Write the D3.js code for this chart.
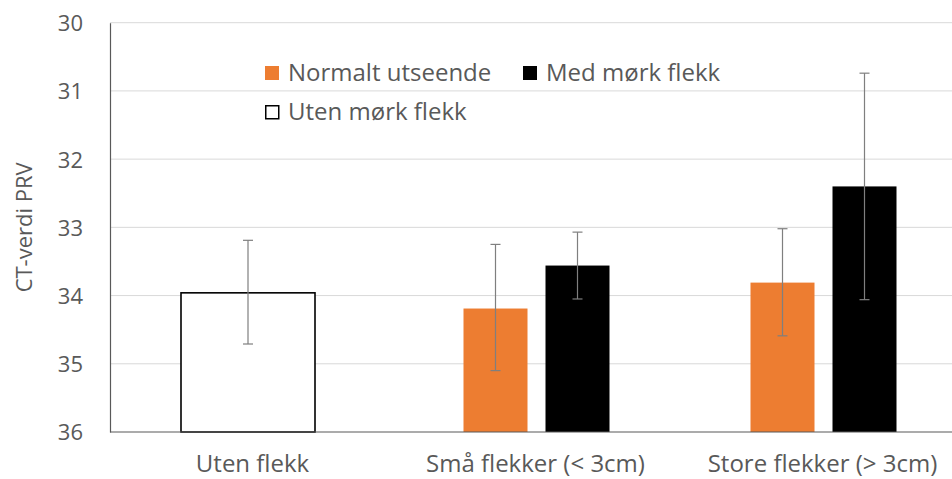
<!DOCTYPE html>
<html><head><meta charset="utf-8">
<script src="https://cdn.jsdelivr.net/npm/d3@7/dist/d3.min.js"></script>
<style>body{margin:0;background:#fff}svg{display:block}text{font-family:"Open Sans","Noto Sans",sans-serif}</style>
</head><body><svg id="c" width="952" height="479"></svg>
<script>
const categories = ["Uten flekk", "Små flekker (< 3cm)", "Store flekker (> 3cm)"];
const seriesNames = ["Normalt utseende", "Med mørk flekk", "Uten mørk flekk"];
const uten = [33.96, null, null];
const utenLow = [33.19, null, null];
const utenHigh = [34.71, null, null];
const normalt = [null, 34.19, 33.81];
const normaltLow = [null, 33.25, 33.02];
const normaltHigh = [null, 35.10, 34.59];
const medMork = [null, 33.56, 32.40];
const medMorkLow = [null, 33.07, 30.74];
const medMorkHigh = [null, 34.05, 34.06];
const yTicks = [30, 31, 32, 33, 34, 35, 36];

(function(){
const svg = d3.select("#c");
const pLeft = 110, pRight = 952, pTop = 22.7, pBottom = 432;
const y = d3.scaleLinear().domain([30, 36]).range([pTop, pBottom]);
const x = d3.scaleBand().domain(categories).range([106, 967]);
const inner = d3.scaleBand().domain([0, 1]).range([-73, 73]).paddingInner(18/82);
const gray = "#595959";

svg.append("g").selectAll("line").data(yTicks.slice(0, -1)).join("line")
  .attr("x1", pLeft).attr("x2", pRight).attr("y1", d => y(d)).attr("y2", d => y(d))
  .attr("stroke", "#d9d9d9").attr("stroke-width", 1);

const yAxis = d3.axisLeft(y).tickValues(yTicks).tickSize(0).tickPadding(27).tickFormat(d3.format("d"));
const ga = svg.append("g").attr("transform", `translate(${pLeft},0)`).call(yAxis);
ga.select(".domain").attr("stroke", gray).attr("stroke-width", 1.2);
ga.selectAll("text").attr("font-size", 22).attr("fill", gray).attr("dy", "0.36em")
  .attr("font-family", "'Open Sans','Noto Sans',sans-serif");

svg.append("text").attr("transform", `translate(32,${(pTop+pBottom)/2}) rotate(-90)`)
  .attr("text-anchor", "middle").attr("font-size", 22).attr("fill", gray).text("CT-verdi PRV");

const series = [
  {vals: normalt, lo: normaltLow, hi: normaltHigh, fill: "#ED7D31", stroke: "none", idx: 0},
  {vals: medMork, lo: medMorkLow, hi: medMorkHigh, fill: "#000000", stroke: "none", idx: 1}
];
const bars = [];
series.forEach(s => s.vals.forEach((v, i) => {
  if (v == null) return;
  const cx = x(categories[i]) + x.bandwidth()/2;
  bars.push({x0: cx + inner(s.idx), w: inner.bandwidth(), v, lo: s.lo[i], hi: s.hi[i], fill: s.fill, stroke: s.stroke});
}));
uten.forEach((v, i) => {
  if (v == null) return;
  const cx = x(categories[i]) + x.bandwidth()/2 - 1.5;
  bars.push({x0: cx - 67, w: 134, v, lo: utenLow[i], hi: utenHigh[i], fill: "#ffffff", stroke: "#000", sw: 1.6});
});

svg.append("g").selectAll("rect").data(bars).join("rect")
  .attr("x", d => d.x0).attr("width", d => d.w)
  .attr("y", d => y(d.v)).attr("height", d => y(36) - y(d.v))
  .attr("fill", d => d.fill).attr("stroke", d => d.stroke).attr("stroke-width", d => d.sw || 0);

svg.append("line").attr("x1", pLeft).attr("x2", pRight).attr("y1", y(36)).attr("y2", y(36))
  .attr("stroke", gray).attr("stroke-width", 1.2);

const eg = svg.append("g").attr("stroke", "#7f7f7f").attr("stroke-width", 1.2);
bars.forEach(d => {
  const cx = d.x0 + d.w/2;
  eg.append("line").attr("x1", cx).attr("x2", cx).attr("y1", y(d.lo)).attr("y2", y(d.hi));
  [d.lo, d.hi].forEach(e => eg.append("line").attr("x1", cx-5).attr("x2", cx+5).attr("y1", y(e)).attr("y2", y(e)));
});

svg.append("g").selectAll("text").data(categories).join("text")
  .attr("x", d => x(d) + x.bandwidth()/2 + (d === categories[0] ? 3 : -1)).attr("y", 472)
  .attr("text-anchor", "middle").attr("font-size", 24).attr("fill", gray).text(d => d);

const legend = [
  {name: seriesNames[0], fill: "#ED7D31", stroke: "none", lx: 265, ly: 66},
  {name: seriesNames[1], fill: "#000", stroke: "none", lx: 523, ly: 66},
  {name: seriesNames[2], fill: "#fff", stroke: "#000", lx: 265, ly: 105}
];
const lg = svg.append("g").selectAll("g").data(legend).join("g").attr("transform", d => `translate(${d.lx},${d.ly})`);
lg.append("rect").attr("x", d => d.stroke === "none" ? 0 : 0.75).attr("y", d => d.stroke === "none" ? 0 : 0.75)
  .attr("width", d => d.stroke === "none" ? 14 : 13).attr("height", d => d.stroke === "none" ? 14 : 13)
  .attr("fill", d => d.fill).attr("stroke", d => d.stroke).attr("stroke-width", 1.5);
lg.append("text").attr("x", 23).attr("y", 15).attr("font-size", 24).attr("fill", gray).text(d => d.name);
})();
</script></body></html>
